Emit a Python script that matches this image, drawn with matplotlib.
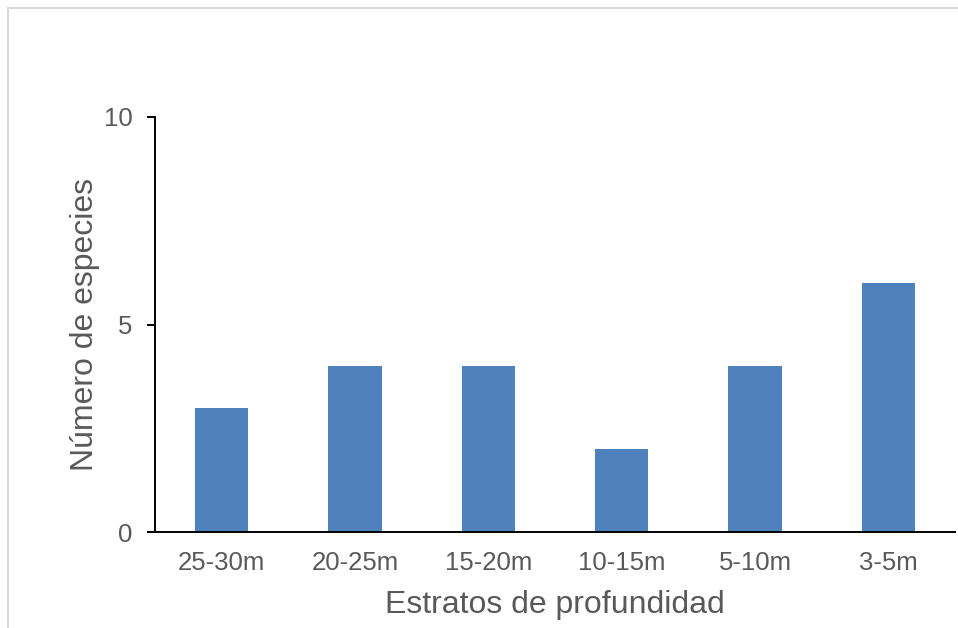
import matplotlib.pyplot as plt
from matplotlib.patches import Rectangle

plt.rcParams['font.family'] = ['Liberation Sans', 'DejaVu Sans']

estratos = ["25-30m", "20-25m", "15-20m", "10-15m", "5-10m", "3-5m"]
especies = [3, 4, 4, 2, 4, 6]
y_ticks = [0, 5, 10]

gris = "#595959"

fig = plt.figure(figsize=(9.58, 6.28), dpi=100)
ax = fig.add_axes([155 / 958, 96 / 628, 800 / 958, 415 / 628])

# chart area border
fig.patches.append(Rectangle((8 / 958, -0.1), 1.2, (620 / 628) + 0.1,
                             transform=fig.transFigure, fill=False,
                             edgecolor="#D9D9D9", linewidth=1.5))

x = range(len(estratos))
ax.bar(x, especies, width=0.4, color="#4F81BD")

ax.set_xlim(-0.5, len(estratos) - 0.5)
ax.set_ylim(0, 10)
ax.set_yticks(y_ticks)
ax.set_xticks(list(x))
ax.set_xticklabels(estratos)

for s in ["top", "right"]:
    ax.spines[s].set_visible(False)
for s in ["left", "bottom"]:
    ax.spines[s].set_color("black")
    ax.spines[s].set_linewidth(1.4)

ax.tick_params(axis="y", length=6, width=1.4, color="black", pad=10,
               labelsize=18.5, labelcolor=gris)
ax.tick_params(axis="x", length=0, pad=14, labelsize=18.5, labelcolor=gris)

ax.set_xlabel("Estratos de profundidad", fontsize=23, color=gris)
ax.set_ylabel("Número de especies", fontsize=23, color=gris)
ax.xaxis.label.set_va("center")
ax.yaxis.label.set_va("center")
ax.yaxis.label.set_rotation_mode("default")
ax.xaxis.set_label_coords(0.5, -0.176)
ax.yaxis.set_label_coords(-0.0875, 0.5)

fig.savefig("out.png", dpi=100)
